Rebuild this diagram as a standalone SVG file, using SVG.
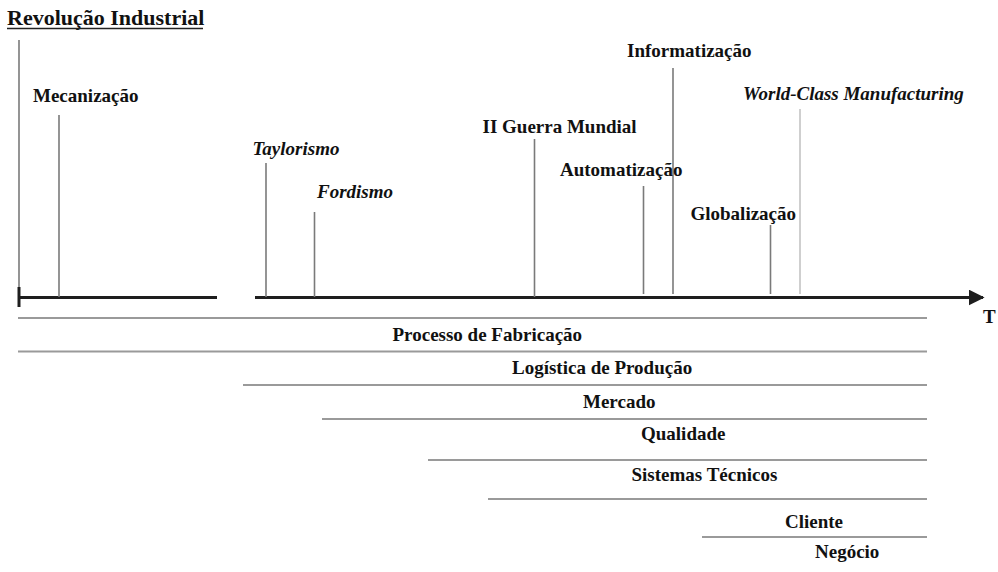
<svg xmlns="http://www.w3.org/2000/svg" width="998" height="572" viewBox="0 0 998 572">
<style>
text{font-family:"Liberation Serif","Times New Roman",serif;font-weight:bold;font-size:19px;fill:#111}
.it{font-style:italic}
.v{stroke:#7a7a7a;stroke-width:1.6;fill:none}
.h{stroke:#9a9a9a;stroke-width:2;fill:none}
.ax{stroke:#1e1e1e;stroke-width:3.2;fill:none}
</style>
<defs>
<marker id="arr" viewBox="0 0 10 10" refX="9" refY="5" markerWidth="5" markerHeight="5" markerUnits="strokeWidth" orient="auto">
<path d="M0,0 L10,5 L0,10 Z" fill="#1e1e1e"/>
</marker>
</defs>
<rect width="998" height="572" fill="#fff"/>
<g id="title">
<text x="7" y="25" style="font-size:22px">Revolução Industrial</text>
<line x1="7" y1="28.5" x2="203" y2="28.5" stroke="#222" stroke-width="1.6"/>
</g>
<g id="connectors">
<line class="v" x1="19" y1="40" x2="19" y2="288"/>
<line x1="19" y1="287" x2="19" y2="307" stroke="#1e1e1e" stroke-width="3"/>
<line class="ax" x1="18" y1="297.5" x2="217" y2="297.5"/>
<line class="ax" x1="255" y1="297.5" x2="983" y2="297.5" marker-end="url(#arr)"/>
<line class="v" x1="59" y1="115" x2="59" y2="297"/>
<line class="v" x1="266" y1="163" x2="266" y2="297"/>
<line class="v" x1="314.5" y1="212" x2="314.5" y2="297"/>
<line class="v" x1="534.5" y1="139" x2="534.5" y2="297"/>
<line class="v" x1="643.5" y1="186" x2="643.5" y2="294"/>
<line class="v" x1="673" y1="68" x2="673" y2="294"/>
<line class="v" x1="770.5" y1="225" x2="770.5" y2="294"/>
<line x1="800" y1="109" x2="800" y2="294" stroke="#bbb" stroke-width="1.4"/>
<line class="h" x1="18" y1="318" x2="927" y2="318"/>
<line class="h" x1="18" y1="351.5" x2="927" y2="351.5"/>
<line class="h" x1="243" y1="385" x2="927" y2="385"/>
<line class="h" x1="322" y1="419" x2="927" y2="419"/>
<line class="h" x1="428" y1="460" x2="927" y2="460"/>
<line class="h" x1="488" y1="499" x2="927" y2="499"/>
<line class="h" x1="702" y1="537" x2="927" y2="537"/>
</g>
<g id="mecanizacao"><text x="33" y="102">Mecanização</text></g>
<g id="taylorismo"><text class="it" x="252.5" y="155">Taylorismo</text></g>
<g id="fordismo"><text class="it" x="317" y="198">Fordismo</text></g>
<g id="guerra"><text x="482.5" y="133">II Guerra Mundial</text></g>
<g id="automatizacao"><text x="560" y="176">Automatização</text></g>
<g id="informatizacao"><text x="627" y="56.5">Informatização</text></g>
<g id="globalizacao"><text x="690.5" y="220">Globalização</text></g>
<g id="wcm"><text class="it" x="743" y="100">World-Class Manufacturing</text></g>
<g id="t-axis"><text x="983" y="323">T</text></g>
<g id="processo"><text x="392.5" y="341">Processo de Fabricação</text></g>
<g id="logistica"><text x="512" y="374">Logística de Produção</text></g>
<g id="mercado"><text x="583" y="408">Mercado</text></g>
<g id="qualidade"><text x="641" y="440">Qualidade</text></g>
<g id="sistemas"><text x="631.5" y="481">Sistemas Técnicos</text></g>
<g id="cliente"><text x="785" y="527.5">Cliente</text></g>
<g id="negocio"><text x="815" y="558">Negócio</text></g>
</svg>
